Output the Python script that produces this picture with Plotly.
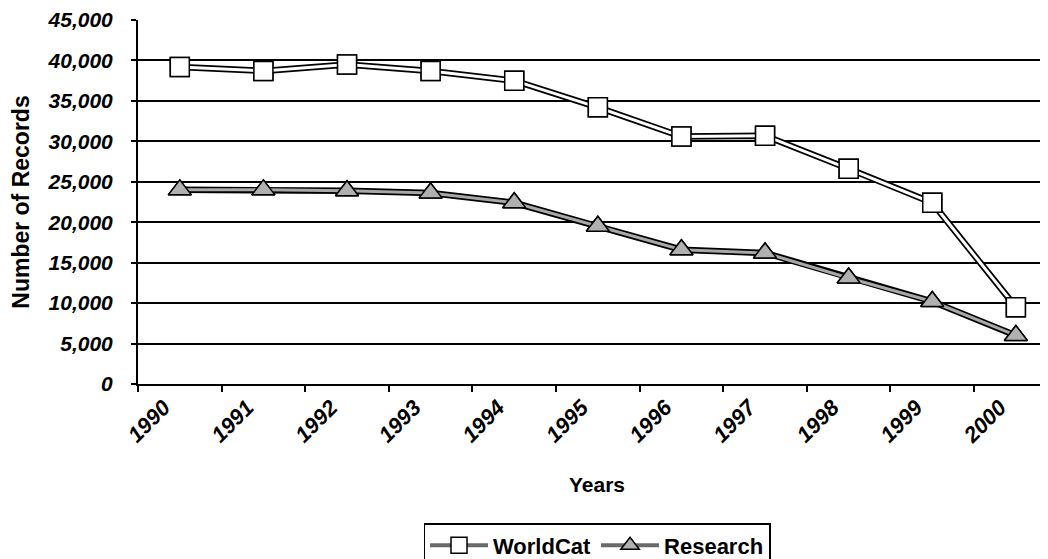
import plotly.graph_objects as go

years = ["1990", "1991", "1992", "1993", "1994", "1995", "1996", "1997", "1998", "1999", "2000"]
worldcat = [39200, 38700, 39500, 38700, 37500, 34200, 30600, 30700, 26600, 22400, 9500]
research = [24000, 24000, 23900, 23600, 22400, 19500, 16600, 16200, 13100, 10200, 6000]

FONT = "Liberation Sans, Arial, sans-serif"

series = [
    ("WorldCat", worldcat, "white", "square", 19, "white"),
    ("Research", research, "#a8a8a8", "triangle-up", 20, "#b0b0b0"),
]

fig = go.Figure()
for name, vals, core, sym, size, fill in series:
    marker = dict(symbol=sym, size=size, color=fill, line=dict(color="black", width=1.5))
    # legend entry (its line is hidden under the outline below)
    fig.add_trace(go.Scatter(x=years, y=vals, mode="lines+markers", name=name,
                             line=dict(color="#6a6a6a", width=4), marker=marker))
    # black outline
    fig.add_trace(go.Scatter(x=years, y=vals, mode="lines", line=dict(color="black", width=6.5),
                             showlegend=False, hoverinfo="skip"))
    # core
    fig.add_trace(go.Scatter(x=years, y=vals, mode="lines", line=dict(color=core, width=3),
                             showlegend=False, hoverinfo="skip"))
    # markers on top
    fig.add_trace(go.Scatter(x=years, y=vals, mode="markers", marker=marker,
                             showlegend=False, hoverinfo="skip"))

fig.update_layout(
    width=1048, height=559,
    margin=dict(l=130, r=0, t=12, b=183, autoexpand=False),
    paper_bgcolor="white", plot_bgcolor="white",
    font=dict(family=FONT, color="black"),
    showlegend=True,
    legend=dict(orientation="h", x=0.50, xanchor="center", y=-0.382, yanchor="top",
                bgcolor="white", bordercolor="black", borderwidth=1.5,
                font=dict(family=FONT, size=22, color="black", weight="bold"),
                itemwidth=58, traceorder="normal"),
)

fig.update_xaxes(
    type="category", range=[-0.5, 10.48], tickson="boundaries",
    showline=True, linecolor="black", linewidth=2,
    ticks="outside", ticklen=6, tickwidth=1.5, tickcolor="black",
    showgrid=False, tickangle=-45, ticklabelshift=-16, ticklabelstandoff=0,
    tickfont=dict(family=FONT, size=22, color="black", weight="bold", style="italic"),
    title=dict(text="Years", standoff=30,
               font=dict(family=FONT, size=21, color="black", weight="bold")),
)

fig.update_yaxes(
    range=[0, 45000], dtick=5000, tickformat=",",
    showline=True, linecolor="black", linewidth=2,
    showgrid=True, gridcolor="black", gridwidth=2,
    zeroline=False,
    ticks="outside", ticklen=5, tickwidth=1.5, tickcolor="black",
    ticklabelstandoff=14,
    tickfont=dict(family=FONT, size=21, color="black", weight="bold", style="italic"),
    title=dict(text="Number of Records", standoff=12,
               font=dict(family=FONT, size=23, color="black", weight="bold")),
)

fig.write_html("out.html")
